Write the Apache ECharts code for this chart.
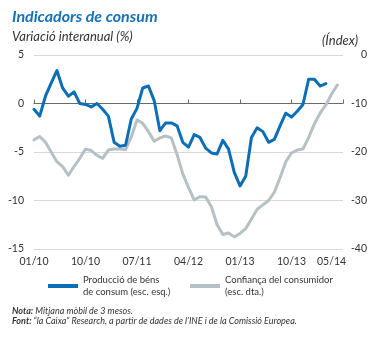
<!DOCTYPE html>
<html><head><meta charset="utf-8">
<script src="https://cdn.jsdelivr.net/npm/echarts@6/dist/echarts.min.js"></script>
<style>html,body{margin:0;padding:0;background:#fff}#c{width:383px;height:338px}</style>
</head><body><div id="c"></div>
<script>
const categories = [
 '01/10','02/10','03/10','04/10','05/10','06/10','07/10','08/10','09/10','10/10','11/10','12/10',
 '01/11','02/11','03/11','04/11','05/11','06/11','07/11','08/11','09/11','10/11','11/11','12/11',
 '01/12','02/12','03/12','04/12','05/12','06/12','07/12','08/12','09/12','10/12','11/12','12/12',
 '01/13','02/13','03/13','04/13','05/13','06/13','07/13','08/13','09/13','10/13','11/13','12/13',
 '01/14','02/14','03/14','04/14','05/14','06/14','07/14'];
const tickLabels = ['01/10','10/10','07/11','04/12','01/13','10/13','05/14'];
const leftTicks = [-15, -10, -5, 0, 5];
const rightTicks = [-40, -30, -20, -10, 0];
const productionName = 'Producció de béns\nde consum (esc. esq.)';
const confidenceName = 'Confiança del consumidor\n(esc. dta.)';
const production = [
 -0.6, -1.3, 0.75, 2.1, 3.4, 1.6, 0.75, 1.2, 0.0, -0.1, -0.35, 0.0,
 -0.6, -1.3, -4.0, -4.4, -4.3, -1.6, -0.5, 1.6, 1.8, 0.3, -2.8, -2.0,
 -2.0, -2.3, -4.0, -4.5, -3.2, -3.5, -4.6, -5.1, -5.2, -3.8, -4.7, -7.1,
 -8.5, -7.5, -3.5, -2.5, -2.9, -4.0, -3.7, -2.3, -1.0, -1.4, -0.8, -0.1,
 2.5, 2.5, 1.8, 2.05];
const confidence = [
 -17.5, -16.8, -18.0, -20.0, -22.0, -23.0, -24.8, -23.0, -21.3, -19.4, -19.7, -20.7,
 -21.3, -19.6, -19.4, -19.4, -19.5, -16.9, -13.4, -14.1, -15.8, -17.8, -17.1, -16.7,
 -17.1, -20.5, -24.5, -27.3, -29.9, -29.2, -29.3, -31.3, -35.0, -37.0, -36.7, -37.5,
 -36.8, -35.8, -33.8, -31.8, -30.9, -30.0, -28.3, -25.3, -22.0, -20.2, -19.6, -19.4,
 -17.0, -14.2, -12.0, -10.3, -8.1, -6.2];

const FONT = 'Lato';
const BLUE = '#0b6fb8';
const GREY = '#b5c1c5';
const TXT = '#333333';
const chart = echarts.init(document.getElementById('c'), null, {renderer: 'canvas'});
const tickSet = new Set(tickLabels);
const noteStyle = {fontFamily: FONT, fontSize: 9, fontStyle: 'italic', fontWeight: 'normal', color: TXT,
  rich: {b: {fontFamily: FONT, fontSize: 9, fontStyle: 'italic', fontWeight: 'bold', color: TXT}}};
chart.setOption({
  backgroundColor: '#ffffff',
  animation: false,
  title: [
    {text: 'Indicadors de consum', left: 7, top: 4,
     textStyle: {fontFamily: FONT, fontSize: 16, fontWeight: 'bold', fontStyle: 'italic', color: '#1473b9'}},
    {text: 'Variació interanual (%)', left: 7, top: 25,
     textStyle: {fontFamily: FONT, fontSize: 13, fontWeight: 'normal', fontStyle: 'italic', color: TXT}},
    {text: '(Índex)', left: 317, top: 29,
     textStyle: {fontFamily: FONT, fontSize: 13, fontWeight: 'normal', fontStyle: 'italic', color: TXT}},
    {text: '{b|Nota:} Mitjana mòbil de 3 mesos.', left: 7, top: 302, textStyle: noteStyle},
    {text: '{b|Font:} “la Caixa” Research, a partir de dades de l’INE i de la Comissió Europea.', left: 7, top: 312,
     textStyle: noteStyle}
  ],
  legend: [
    {data: [productionName], left: 48, top: 268, padding: 0, icon: 'rect', itemWidth: 30, itemHeight: 4,
     textStyle: {fontFamily: FONT, fontSize: 9.5, color: TXT, lineHeight: 12, padding: [12, 0, 0, 0]}},
    {data: [confidenceName], left: 190, top: 268, padding: 0, icon: 'rect', itemWidth: 30, itemHeight: 4,
     textStyle: {fontFamily: FONT, fontSize: 9.5, color: TXT, lineHeight: 12, padding: [12, 0, 0, 0]}}
  ],
  grid: {left: 34, right: 40, top: 55, bottom: 89, containLabel: false},
  xAxis: [
    {type: 'category', data: categories, boundaryGap: false, position: 'bottom',
     axisLine: {show: false, onZero: false}, axisTick: {show: false}, splitLine: {show: false},
     axisLabel: {interval: (i, v) => tickSet.has(v), fontFamily: FONT, fontSize: 10.5, color: TXT, margin: 7}},
    {type: 'category', data: categories, boundaryGap: false, position: 'bottom',
     axisLine: {show: true, onZero: true, onZeroAxisIndex: 0, lineStyle: {color: '#6b6b6b', width: 1}},
     axisTick: {show: true, inside: true, length: 4, interval: 8, lineStyle: {color: '#6b6b6b', width: 1}},
     axisLabel: {show: false}, splitLine: {show: false}}
  ],
  yAxis: [
    {type: 'value', min: leftTicks[0], max: leftTicks[leftTicks.length - 1], interval: 5, position: 'left',
     axisLine: {show: false}, axisTick: {show: false},
     splitLine: {show: true, lineStyle: {color: '#d9d9d9', width: 1}},
     axisLabel: {fontFamily: FONT, fontSize: 10.5, color: TXT, margin: 10}},
    {type: 'value', min: rightTicks[0], max: rightTicks[rightTicks.length - 1], interval: 10, position: 'right',
     axisLine: {show: false}, axisTick: {show: false}, splitLine: {show: false},
     axisLabel: {fontFamily: FONT, fontSize: 10.5, color: TXT, margin: 24, align: 'right'}}
  ],
  series: [
    {name: confidenceName, type: 'line', data: confidence, xAxisIndex: 0, yAxisIndex: 1,
     symbol: 'none', smooth: false, color: GREY,
     lineStyle: {color: GREY, width: 3, join: 'round', cap: 'round'}},
    {name: productionName, type: 'line', data: production, xAxisIndex: 0, yAxisIndex: 0,
     symbol: 'none', smooth: false, color: BLUE,
     lineStyle: {color: BLUE, width: 3, join: 'round', cap: 'round'}}
  ]
});
</script></body></html>
